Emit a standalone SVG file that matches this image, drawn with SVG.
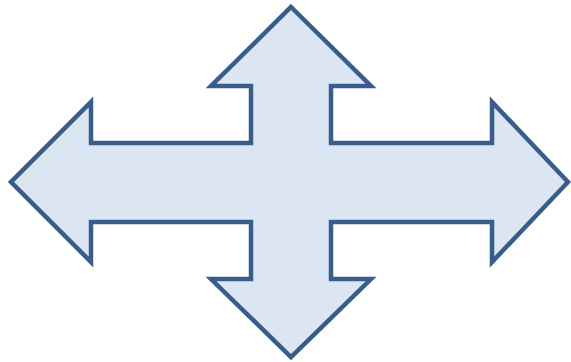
<svg xmlns="http://www.w3.org/2000/svg" width="571" height="362" viewBox="0 0 571 362">
<style>
.shape{fill:#DCE6F2;stroke:#385D8A;stroke-width:4.5;stroke-linejoin:miter;stroke-miterlimit:10}
</style>
<g id="quad-arrow">
<path class="shape" d="M291,7 L371,86 L331,86 L331,143 L492,143 L492,102 L568,182 L492,262 L492,222 L331,222 L331,279 L371,279 L291,357 L211,279 L251,279 L251,222 L91,222 L91,262 L11,182 L91,102 L91,143 L251,143 L251,86 L211,86 Z"/>
</g>
</svg>
